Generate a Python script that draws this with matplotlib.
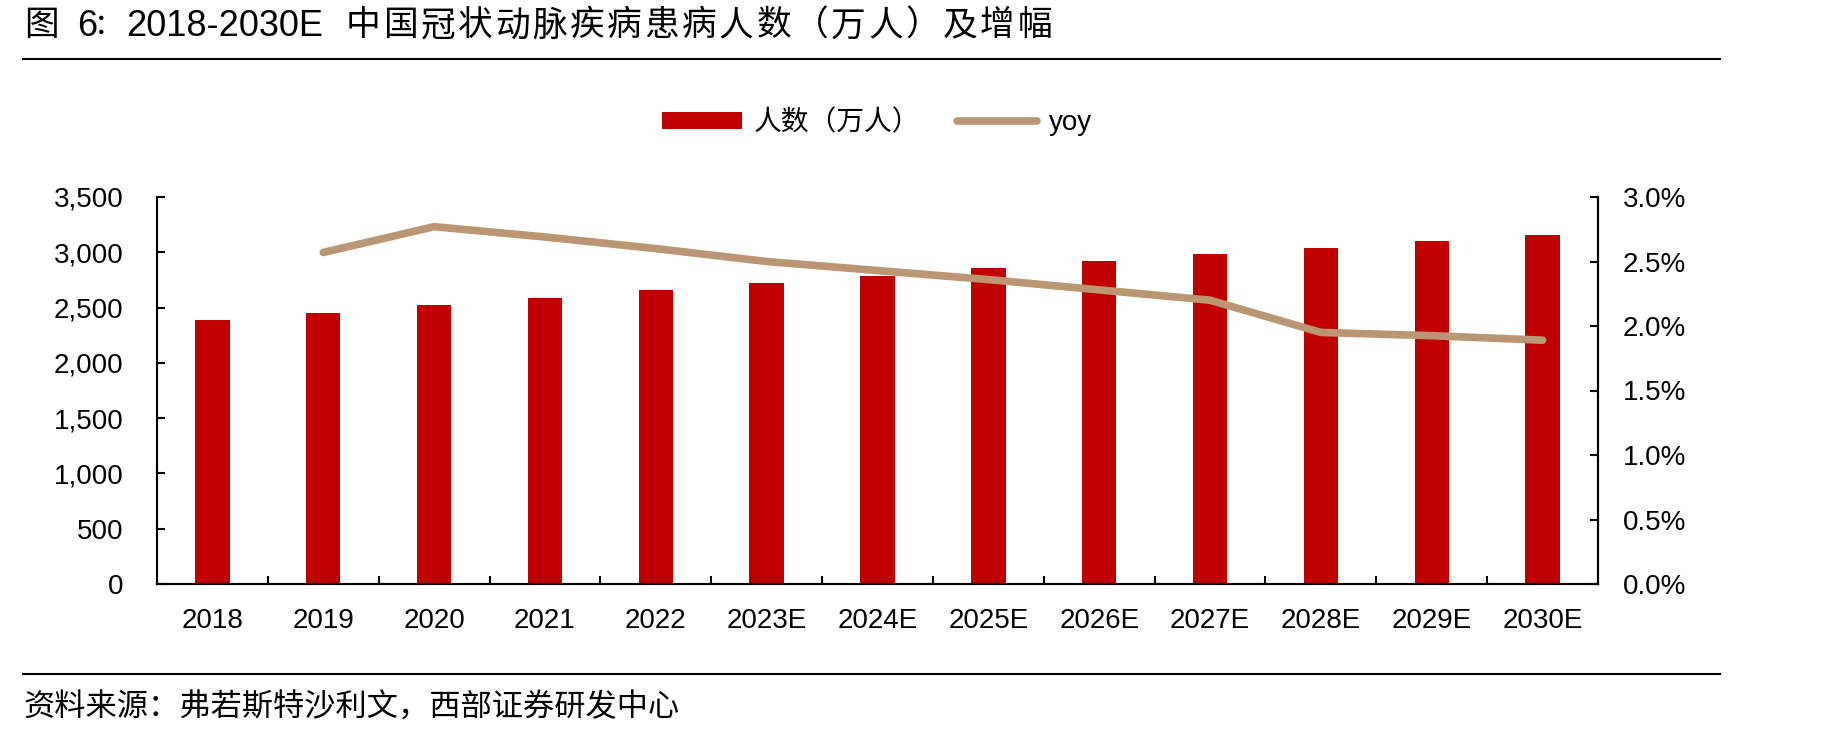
import matplotlib
matplotlib.use("Agg")
import matplotlib.pyplot as plt
from matplotlib.lines import Line2D
from matplotlib.patches import Patch
from matplotlib.ticker import FuncFormatter, FixedLocator

plt.rcParams['font.family'] = ['Liberation Sans', 'Noto Sans CJK SC']

years = ['2018', '2019', '2020', '2021', '2022', '2023E', '2024E',
         '2025E', '2026E', '2027E', '2028E', '2029E', '2030E']
patients = [2385, 2450, 2520, 2586, 2655, 2720, 2785,
            2855, 2920, 2983, 3038, 3098, 3155]
# yoy starts in 2019 (no value for 2018)
yoy = [None, 2.57, 2.77, 2.69, 2.60, 2.50, 2.43,
       2.36, 2.28, 2.20, 1.95, 1.925, 1.89]

bar_color = '#C00000'
line_color = '#BA9772'

W, H = 1838, 739
fig = plt.figure(figsize=(W / 100, H / 100), dpi=100)
ax = fig.add_axes([157 / W, 1 - 584 / H, (1598 - 157) / W, (584 - 197) / H])
ax2 = ax.twinx()

x = list(range(len(years)))
ax.bar(x, patients, width=0.31, color=bar_color, zorder=2)

xs = [i for i, v in zip(x, yoy) if v is not None]
ys = [v for v in yoy if v is not None]
ax2.plot(xs, ys, color=line_color, lw=5.5, solid_capstyle='round',
         solid_joinstyle='round', zorder=3)

ax.set_xlim(-0.5, len(years) - 0.5)
ax.set_ylim(0, 3500)
ax.set_yticks(range(0, 3501, 500))
ax.yaxis.set_major_formatter(FuncFormatter(lambda v, p: f'{v:,.0f}'))
ax2.set_ylim(0, 3.0)
ax2.set_yticks([0, 0.5, 1.0, 1.5, 2.0, 2.5, 3.0])
ax2.yaxis.set_major_formatter(FuncFormatter(lambda v, p: f'{v:.1f}%'))

ax.set_xticks(x)
ax.set_xticklabels(years)
ax.xaxis.set_minor_locator(FixedLocator([i + 0.5 for i in x[:-1]]))

for a in (ax, ax2):
    a.spines['top'].set_visible(False)
    for s in ('left', 'right', 'bottom'):
        a.spines[s].set_linewidth(1.5)
        a.spines[s].set_color('black')

ax.tick_params(axis='x', which='major', length=0, pad=17.5, labelsize=20)
ax.tick_params(axis='x', which='minor', direction='in', length=6, width=1.5)
ax.tick_params(axis='y', direction='in', length=6, width=1.5, pad=24, labelsize=20)
ax2.tick_params(axis='y', direction='in', length=6, width=1.5, pad=18, labelsize=20)

# legend
handles = [Patch(facecolor=bar_color, edgecolor='none'),
           Line2D([0], [0], color=line_color, lw=5.5, solid_capstyle='round')]
fig.legend(handles, ['人数（万人）', 'yoy'], loc='center',
           bbox_to_anchor=(877 / W, 1 - 123 / H), ncol=2, frameon=False,
           fontsize=20, handlelength=2.88, handleheight=0.54,
           handletextpad=0.4, columnspacing=1.35)

# title (spaced out like the original report typeface)
title_y = 1 - 26 / H
fig.text(24 / W, title_y, '图', fontsize=25, ha='left', va='center')
fig.text(77 / W, title_y, '6', fontsize=26, ha='left', va='center')
fig.text(94 / W, title_y, '：', fontsize=21, ha='left', va='center')
fig.text(126 / W, title_y, '2018-2030E', fontsize=26, ha='left', va='center')
title_cn = '中国冠状动脉疾病患病人数（万人）及增幅'
for i, ch in enumerate(title_cn):
    fig.text((346 + i * 37.3) / W, title_y, ch, fontsize=25,
             ha='left', va='center')

# separator lines
fig.add_artist(Line2D([23 / W, 1720 / W], [1 - 59 / H] * 2,
                      color='black', lw=1.5))
fig.add_artist(Line2D([23 / W, 1720 / W], [1 - 674 / H] * 2,
                      color='black', lw=1.5))

fig.text(23 / W, 1 - 709 / H, '资料来源：弗若斯特沙利文，西部证券研发中心',
         fontsize=22.5, ha='left', va='center')

fig.savefig('out.png', dpi=100)
